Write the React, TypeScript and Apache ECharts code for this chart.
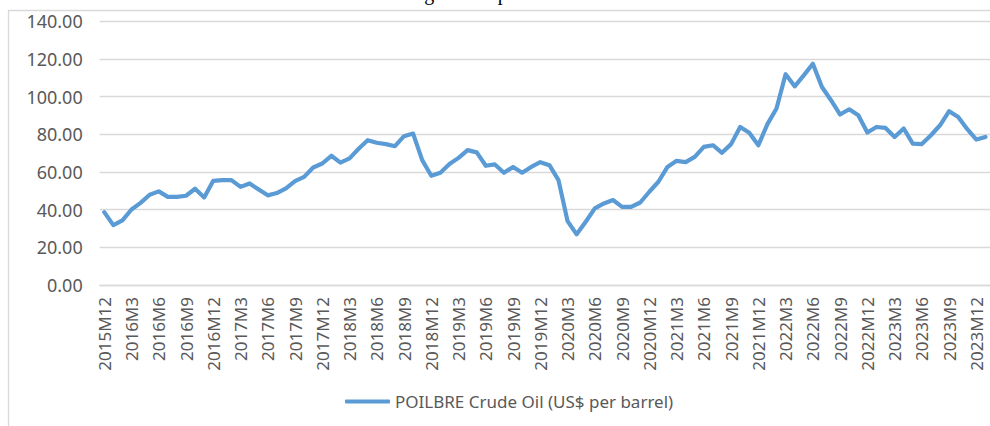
import React, { useEffect, useRef } from "react";
import * as echarts from "echarts";

// Monthly values (US$ per barrel)
const v2015 = [38.7]; // M12
const v2016 = [31.8, 34.3, 40.1, 43.6, 47.9, 49.7, 46.8, 46.8, 47.4, 51.1, 46.5, 55.3];
const v2017 = [55.7, 55.7, 52.1, 53.9, 50.7, 47.6, 48.8, 51.3, 55.1, 57.4, 62.4, 64.5];
const v2018 = [68.6, 65.0, 67.2, 72.3, 76.9, 75.5, 74.8, 73.7, 79.0, 80.4, 66.3, 58.0];
const v2019 = [59.6, 64.2, 67.5, 71.6, 70.4, 63.3, 64.0, 59.6, 62.7, 59.6, 62.7, 65.2];
const v2020 = [63.6, 55.7, 33.9, 26.9, 33.6, 40.7, 43.3, 45.1, 41.5, 41.5, 43.8, 49.5];
const v2021 = [54.8, 62.7, 65.9, 65.2, 68.0, 73.3, 74.2, 70.2, 74.8, 83.9, 80.8, 74.2];
const v2022 = [85.4, 93.7, 111.9, 105.5, 111.3, 117.5, 105.1, 98.1, 90.5, 93.3, 90.1, 81.0];
const v2023 = [83.9, 83.4, 78.6, 83.1, 75.1, 74.8, 79.5, 84.8, 92.3, 89.2, 82.7, 77.2];
const v2024 = [78.6]; // M1

const seriesName = "POILBRE Crude Oil (US$ per barrel)";
const titleText = "Average crude price";
const yTicks = [0, 20, 40, 60, 80, 100, 120, 140];

const values = [...v2015, ...v2016, ...v2017, ...v2018, ...v2019, ...v2020, ...v2021, ...v2022, ...v2023, ...v2024];

// categories 2015M12 .. 2024M1
const categories: string[] = [];
{
  let y = 2015;
  let m = 12;
  for (let i = 0; i < values.length; i++) {
    categories.push(`${y}M${m}`);
    m++;
    if (m > 12) {
      m = 1;
      y++;
    }
  }
}

const FONT = "'Noto Sans', sans-serif";

export default function App() {
  const ref = useRef<HTMLDivElement>(null);
  useEffect(() => {
    if (!ref.current) return;
    const chart = echarts.init(ref.current, null, { renderer: "svg" });
    const pitch = 9.14;
    const left = 99.7;
    const width = pitch * categories.length;
    chart.setOption({
      animation: false,
      backgroundColor: "#ffffff",
      grid: {
        left: left,
        right: 990 - left - width,
        top: 21.3,
        bottom: 141,
        containLabel: false,
      },
      xAxis: {
        type: "category",
        data: categories,
        boundaryGap: true,
        axisTick: { show: false },
        axisLine: { show: true, lineStyle: { color: "#d9d9d9", width: 1.3 } },
        axisLabel: {
          rotate: 90,
          interval: 2,
          margin: 12,
          color: "#595959",
          fontFamily: FONT,
          fontSize: 17,
        },
        splitLine: { show: false },
      },
      yAxis: {
        type: "value",
        min: yTicks[0],
        max: yTicks[yTicks.length - 1],
        interval: 20,
        axisLine: { show: false },
        axisTick: { show: false },
        axisLabel: {
          margin: 17,
          color: "#595959",
          fontFamily: FONT,
          fontSize: 18,
          formatter: (v: number) => v.toFixed(2),
        },
        splitLine: { lineStyle: { color: "#d9d9d9", width: 1.3 } },
      },
      legend: {
        data: [seriesName],
        left: 340,
        top: 388,
        icon: "roundRect",
        itemWidth: 45,
        itemHeight: 4,
        itemGap: 5,
        textStyle: { color: "#595959", fontFamily: FONT, fontSize: 17 },
      },
      series: [
        {
          name: seriesName,
          type: "line",
          data: values,
          symbol: "none",
          showSymbol: false,
          lineStyle: { color: "#5b9bd5", width: 4.2, cap: "round", join: "round" },
          itemStyle: { color: "#5b9bd5" },
        },
      ],
      graphic: [
        {
          type: "rect",
          silent: true,
          shape: { x: 8.5, y: 10.5, width: 1100, height: 1000 },
          style: { fill: "none", stroke: "#d9d9d9", lineWidth: 1.3 },
          z: -1,
        },
        {
          type: "text",
          silent: true,
          x: 377,
          y: -7.3,
          style: {
            text: titleText,
            fill: "#000000",
            font: "20px 'Liberation Serif', serif",
            textAlign: "left",
            textVerticalAlign: "middle",
          },
        },
      ],
    });
    return () => chart.dispose();
  }, []);
  return (
    <div
      ref={ref}
      style={{ position: "absolute", left: 0, top: 0, width: 990, height: 426 }}
    />
  );
}
